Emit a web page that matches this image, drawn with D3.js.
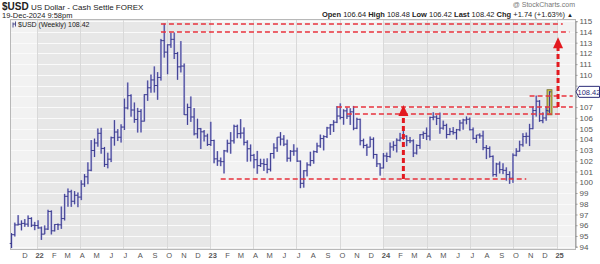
<!DOCTYPE html>
<html>
<head>
<meta charset="utf-8">
<script src="https://cdn.jsdelivr.net/npm/d3@7"></script>
<style>
body { margin: 0; background: #fff; }
svg { display: block; font-family: "Liberation Sans", Arial, sans-serif; }
</style>
</head>
<body>
<script>
// weekly bars, first week starts 8-Nov-2021
let firstWeek = new Date(2021, 10, 8);

let open = [
  94.30, 95.12, 96.03, 96.09, 96.17, 96.10, 96.63, 96.00,
  95.97, 95.75, 95.17, 95.64, 97.28, 95.48, 96.07, 96.04, 96.62, 98.69, 99.12, 98.23, 98.79,
  98.62, 99.83, 100.51, 101.12, 102.96, 103.66, 104.56, 103.15, 101.66, 102.15, 104.15, 104.68, 104.19,
  105.14, 106.92, 108.07, 106.73, 105.85, 106.60, 105.69, 108.16, 108.80, 109.53, 109.01, 109.76, 113.19,
  112.12, 112.80, 113.31, 111.99, 110.75, 110.82, 106.29, 106.97, 106.08, 104.51, 104.99, 104.70, 104.31,
  103.52, 103.89, 102.18, 101.99, 101.92, 102.92, 103.63, 103.86, 105.21, 104.53, 104.58, 103.72, 103.12,
  102.51, 102.10, 101.55, 101.73, 101.66, 101.21, 102.68, 103.20, 104.20, 104.02, 103.55, 102.24, 102.89,
  102.91, 101.97, 99.90, 101.07, 101.62, 102.02, 102.85, 103.38, 104.07, 104.25, 105.06, 105.35, 105.59,
  106.17, 106.04, 106.65, 106.16, 106.56, 105.03, 105.86, 103.87, 103.43, 103.27, 104.00, 102.59, 101.72,
  101.33, 102.45, 102.40, 103.29, 103.44, 103.92, 104.12, 104.30, 103.88, 103.86, 102.72, 103.43, 104.43,
  104.55, 104.30, 106.04, 106.08, 105.95, 105.04, 105.30, 104.45, 104.72, 104.62, 104.89, 105.52, 105.80,
  105.87, 104.89, 104.09, 104.40, 104.32, 103.22, 103.15, 102.41, 100.72, 101.70, 101.18, 101.11, 100.72, 100.38,
  102.52, 102.89, 103.49, 104.26, 104.28, 104.99, 106.68, 107.55, 105.74, 105.99, 106.64
];
let high = [
  95.27, 96.24, 96.94, 96.45, 96.57, 96.91, 96.74, 96.31,
  96.46, 95.87, 95.98, 97.44, 97.38, 96.10, 96.16, 97.74, 98.92, 99.42, 99.30, 99.18, 99.05,
  100.19, 100.76, 101.86, 103.93, 104.07, 105.01, 105.07, 103.29, 102.75, 104.25, 105.79, 104.95, 105.40,
  107.79, 109.29, 108.19, 107.43, 106.93, 106.81, 108.20, 109.48, 110.03, 110.79, 110.26, 113.35, 114.78,
  112.85, 113.92, 113.95, 112.14, 113.15, 111.06, 107.32, 107.99, 106.91, 105.92, 105.06, 104.87, 104.52,
  105.63, 103.96, 102.90, 102.30, 103.01, 103.96, 104.67, 105.36, 105.36, 105.88, 105.11, 103.91, 103.52,
  102.64, 102.92, 102.19, 102.19, 102.23, 102.73, 103.63, 104.20, 104.67, 104.39, 103.97, 103.00, 103.54,
  103.22, 102.03, 101.13, 101.85, 102.84, 102.95, 103.68, 104.44, 104.38, 105.16, 105.43, 105.78, 107.10,
  107.35, 106.80, 106.95, 106.89, 107.11, 106.01, 105.92, 104.06, 103.58, 104.26, 104.18, 102.64, 101.76,
  102.72, 102.76, 103.70, 103.82, 104.09, 104.60, 104.97, 104.37, 104.22, 103.99, 103.53, 104.49, 104.73,
  105.10, 106.11, 106.52, 106.24, 106.49, 105.74, 105.45, 105.06, 105.14, 104.97, 105.80, 105.91, 106.13,
  106.03, 105.10, 104.41, 104.55, 104.80, 103.46, 103.34, 102.50, 101.81, 101.93, 101.77, 101.39, 101.02, 102.69,
  103.17, 103.87, 104.57, 104.63, 105.44, 107.07, 108.07, 107.65, 106.51, 107.06, 108.48
];
let low = [
  93.87, 94.95, 95.98, 95.52, 95.85, 95.85, 95.83, 95.54,
  95.67, 94.63, 95.17, 95.56, 95.14, 95.42, 95.56, 95.66, 96.44, 97.72, 97.71, 97.95, 97.68,
  98.34, 99.57, 99.82, 101.03, 102.35, 103.31, 102.66, 101.43, 101.30, 101.88, 103.41, 103.84, 103.70,
  104.87, 106.79, 106.11, 105.54, 104.63, 104.64, 105.66, 107.58, 108.34, 108.36, 107.68, 109.47, 111.61,
  110.06, 112.52, 111.48, 109.54, 110.23, 106.27, 105.34, 105.62, 104.37, 104.09, 103.10, 103.80, 103.38,
  103.38, 101.77, 101.53, 101.50, 100.82, 102.77, 102.66, 103.61, 104.10, 104.08, 103.44, 101.92, 101.94,
  101.30, 100.79, 101.42, 101.06, 100.84, 101.01, 102.21, 102.83, 103.43, 103.37, 101.92, 101.93, 102.47,
  101.90, 99.45, 99.50, 100.55, 101.50, 101.73, 102.73, 103.21, 102.97, 104.12, 104.41, 104.68, 105.51,
  105.86, 105.36, 105.90, 105.34, 104.85, 104.95, 103.44, 103.17, 102.46, 103.26, 102.20, 101.42, 100.62,
  101.29, 101.89, 102.28, 102.94, 102.78, 103.81, 103.93, 103.36, 103.65, 102.35, 102.59, 103.12, 104.03,
  103.93, 103.89, 105.78, 105.33, 104.52, 104.90, 104.08, 104.38, 104.44, 103.99, 104.76, 104.90, 105.40,
  104.83, 103.99, 103.65, 104.07, 102.99, 102.16, 102.29, 100.53, 100.52, 100.82, 100.76, 100.15, 99.85, 99.95,
  102.42, 102.85, 103.32, 103.60, 103.37, 104.94, 106.12, 105.63, 105.50, 105.73, 106.42
];
let close = [
  95.12, 96.03, 96.09, 96.17, 96.10, 96.63, 96.00, 95.97,
  95.75, 95.17, 95.64, 97.28, 95.48, 96.07, 96.04, 96.62, 98.69, 99.12, 98.23, 98.79, 98.62,
  99.83, 100.51, 101.12, 102.96, 103.66, 104.56, 103.15, 101.66, 102.15, 104.15, 104.68, 104.19, 105.14,
  106.92, 108.07, 106.73, 105.85, 106.60, 105.69, 108.16, 108.80, 109.53, 109.01, 109.76, 113.19, 112.12,
  112.80, 113.31, 111.99, 110.75, 110.82, 106.29, 106.97, 106.08, 104.51, 104.99, 104.70, 104.31, 103.52,
  103.89, 102.18, 101.99, 101.92, 102.92, 103.63, 103.86, 105.21, 104.53, 104.58, 103.72, 103.12, 102.51,
  102.10, 101.55, 101.73, 101.66, 101.21, 102.68, 103.20, 104.20, 104.02, 103.55, 102.24, 102.89, 102.91,
  101.97, 99.90, 101.07, 101.62, 102.02, 102.85, 103.38, 104.07, 104.25, 105.06, 105.35, 105.59, 106.17,
  106.04, 106.65, 106.16, 106.56, 105.03, 105.86, 103.87, 103.43, 103.27, 104.00, 102.59, 101.72, 101.33,
  102.45, 102.40, 103.29, 103.44, 103.92, 104.12, 104.30, 103.88, 103.86, 102.72, 103.43, 104.43, 104.55,
  104.30, 106.04, 106.08, 105.95, 105.04, 105.30, 104.45, 104.72, 104.62, 104.89, 105.52, 105.80, 105.87,
  104.89, 104.09, 104.40, 104.32, 103.22, 103.15, 102.41, 100.72, 101.70, 101.18, 101.11, 100.72, 100.38, 102.52,
  102.89, 103.49, 104.26, 104.28, 104.99, 106.68, 107.55, 105.74, 105.99, 106.68, 108.42
];

let yTicks = d3.range(94, 116);
let monthLetters = ['J', 'F', 'M', 'A', 'M', 'J', 'J', 'A', 'S', 'O', 'N', 'D'];

// drawn levels (price, from, to)
let levelPrices = [114.78, 113.95, 108.07, 107.0, 106.4, 100.3];
let levelFrom = ['2022-09-19', '2022-09-19', '2024-11-04', '2023-09-25', '2023-10-16', '2023-01-23'];
let levelTo = ['2025-01-13', '2025-01-27', '2025-02-03', '2025-02-03', '2025-01-13', '2024-10-28'];
// arrows (date, from price, to price)
let arrowDates = ['2024-02-12', '2025-01-03'];
let arrowFrom = [100.3, 107.0];
let arrowTo = [107.2, 113.5];

let data = open.map((o, i) => ({
  date: d3.timeDay.offset(firstWeek, 7 * i),
  open: o, high: high[i], low: low[i], close: close[i]
}));
let last = data[data.length - 1];
let parse = d3.timeParse('%Y-%m-%d');

let width = 600, height = 264;
let plot = {left: 10, right: 575, top: 19.5, bottom: 249.5};

let svg = d3.select('body').append('svg').attr('width', width).attr('height', height)
  .style('background', '#fff');

let xScale = d3.scaleTime().domain([firstWeek, last.date]).range([11.5, 549.5]);
let yScale = d3.scaleLinear().domain([94, 115]).range([246.7, 21.2]);
let crisp = v => Math.round(v) + 0.5;

// alternating year shading
let years = [2021, 2022, 2023, 2024, 2025];
svg.append('g').selectAll('rect').data(years).enter().append('rect')
  .attr('x', d => Math.max(plot.left, xScale(new Date(d, 0, 1))))
  .attr('width', d => Math.min(plot.right, xScale(new Date(d + 1, 0, 1))) - Math.max(plot.left, xScale(new Date(d, 0, 1))))
  .attr('y', plot.top).attr('height', plot.bottom - plot.top)
  .attr('fill', d => d % 2 == 0 ? '#e7e7e7' : '#f2f2f2');

// grid
svg.append('g').selectAll('line').data(yTicks).enter().append('line')
  .attr('x1', plot.left).attr('x2', plot.right)
  .attr('y1', d => crisp(yScale(d))).attr('y2', d => crisp(yScale(d)))
  .attr('stroke', '#fafafa').attr('stroke-width', 1);

let months = d3.timeMonth.range(new Date(2021, 11, 1), new Date(2025, 0, 2));
let quarters = months.filter(d => d.getMonth() % 3 == 0);
svg.append('g').selectAll('line').data(quarters).enter().append('line')
  .attr('x1', d => crisp(xScale(d))).attr('x2', d => crisp(xScale(d)))
  .attr('y1', plot.top).attr('y2', plot.bottom)
  .attr('stroke', '#d9d9d9').attr('stroke-width', 1);

svg.append('rect').attr('x', plot.left + 0.5).attr('y', plot.top)
  .attr('width', plot.right - plot.left).attr('height', plot.bottom - plot.top)
  .attr('fill', 'none').attr('stroke', '#b8b8b8');

// highlight on last bar
svg.append('rect')
  .attr('x', xScale(last.date) - 2.5).attr('width', 5)
  .attr('y', yScale(last.high) - 1.5).attr('height', yScale(last.low) - yScale(last.high) + 3)
  .attr('fill', '#c8bf3a').attr('stroke', '#74702a').attr('stroke-width', 0.8);

// OHLC bars
let bars = svg.append('g').selectAll('g').data(data).enter().append('g');
bars.append('line')
  .attr('x1', d => xScale(d.date)).attr('x2', d => xScale(d.date))
  .attr('y1', d => yScale(d.high)).attr('y2', d => yScale(d.low))
  .attr('stroke', '#b4b4e0').attr('stroke-width', 2);
bars.append('line')
  .attr('x1', d => xScale(d.date)).attr('x2', d => xScale(d.date))
  .attr('y1', d => yScale(d.high)).attr('y2', d => yScale(d.low))
  .attr('stroke', '#34348a').attr('stroke-width', 0.9);
bars.append('line')
  .attr('x1', d => xScale(d.date) - 1.8).attr('x2', d => xScale(d.date))
  .attr('y1', d => yScale(d.open)).attr('y2', d => yScale(d.open))
  .attr('stroke', '#34348a').attr('stroke-width', 0.9);
bars.append('line')
  .attr('x1', d => xScale(d.date)).attr('x2', d => xScale(d.date) + 1.8)
  .attr('y1', d => yScale(d.close)).attr('y2', d => yScale(d.close))
  .attr('stroke', '#34348a').attr('stroke-width', 0.9);

// level lines
svg.append('g').selectAll('line').data(levelPrices).enter().append('line')
  .attr('x1', (d, i) => xScale(parse(levelFrom[i])))
  .attr('x2', (d, i) => Math.min(plot.right, xScale(parse(levelTo[i]))))
  .attr('y1', d => Math.round(yScale(d))).attr('y2', d => Math.round(yScale(d)))
  .attr('stroke', '#e8323c').attr('stroke-width', 1.3).attr('stroke-dasharray', '5,3');

// arrows
arrowDates.forEach((ds, i) => {
  let ax = xScale(parse(ds));
  let tip = yScale(arrowTo[i]);
  svg.append('line').attr('x1', ax).attr('x2', ax)
    .attr('y1', yScale(arrowFrom[i])).attr('y2', tip + 10)
    .attr('stroke', '#e3191f').attr('stroke-width', 3).attr('stroke-dasharray', '5,3');
  svg.append('path')
    .attr('d', `M${ax - 5},${tip + 11}L${ax},${tip}L${ax + 5},${tip + 11}Z`)
    .attr('fill', '#e3191f');
});

// right axis (108 label sits under the price tag)
let axisG = svg.append('g').attr('transform', `translate(${plot.right + 0.5},0)`)
  .call(d3.axisRight(yScale).tickValues(yTicks).tickSize(2).tickPadding(2)
    .tickFormat(d => Math.abs(d - last.close) < 0.6 ? '' : d3.format('d')(d)));
axisG.select('.domain').attr('stroke', '#999');
axisG.selectAll('.tick line').attr('stroke', '#999');
axisG.selectAll('text').attr('font-size', 8).attr('fill', '#555').attr('font-family', '"Liberation Sans", Arial, sans-serif');

// last price tag
let tagY = yScale(last.close);
svg.append('path')
  .attr('d', `M${plot.right + 1},${tagY}L${plot.right + 4},${tagY - 5.5}H599.5V${tagY + 5.5}H${plot.right + 4}Z`)
  .attr('fill', '#fff').attr('stroke', '#2c2c78').attr('stroke-width', 1);
svg.append('text').attr('x', plot.right + 14).attr('y', tagY + 3).attr('text-anchor', 'middle')
  .attr('font-size', 7.5).attr('fill', '#2c2c78').text(last.close.toFixed(2));

// bottom month labels
svg.append('g').selectAll('text').data(months).enter().append('text')
  .attr('x', d => xScale(d) + 2.5).attr('y', height - 6)
  .attr('text-anchor', 'middle').attr('font-size', 7.5).attr('fill', '#555')
  .attr('font-weight', d => d.getMonth() == 0 ? 'bold' : 'normal')
  .text(d => d.getMonth() == 0 ? d3.timeFormat('%y')(d) : monthLetters[d.getMonth()]);

// header
let head = svg.append('text').attr('x', 2).attr('y', 10).attr('fill', '#222');
head.append('tspan').attr('font-weight', 'bold').attr('font-size', 10).text('$USD');
head.append('tspan').attr('font-size', 8).text(' US Dollar - Cash Settle FOREX');
svg.append('text').attr('x', 2).attr('y', 18).attr('font-size', 7.5).attr('fill', '#222')
  .text('19-Dec-2024 9:58pm');
svg.append('text').attr('x', 575).attr('y', 7).attr('text-anchor', 'end')
  .attr('font-size', 7).attr('fill', '#777').text('@ StockCharts.com');

let quote = svg.append('text').attr('x', 573).attr('y', 16.5).attr('text-anchor', 'end')
  .attr('font-size', 7.5).attr('fill', '#222');
[['Open', ' 106.64 '], ['High', ' 108.48 '], ['Low', ' 106.42 '], ['Last', ' 108.42 '], ['Chg', ' +1.74 (+1.63%) ']]
  .forEach(p => {
    quote.append('tspan').attr('font-weight', 'bold').text(p[0]);
    quote.append('tspan').text(p[1]);
  });
quote.append('tspan').attr('font-size', 6).text('▲');

// plot label
svg.append('path').attr('d', 'M13,22.5v5M15.5,21.5v5M13,24h2.5').attr('stroke', '#2c2c78').attr('stroke-width', 0.8);
svg.append('text').attr('x', 18).attr('y', 27).attr('font-size', 7).attr('fill', '#222')
  .text('$USD (Weekly) 108.42');
</script>
